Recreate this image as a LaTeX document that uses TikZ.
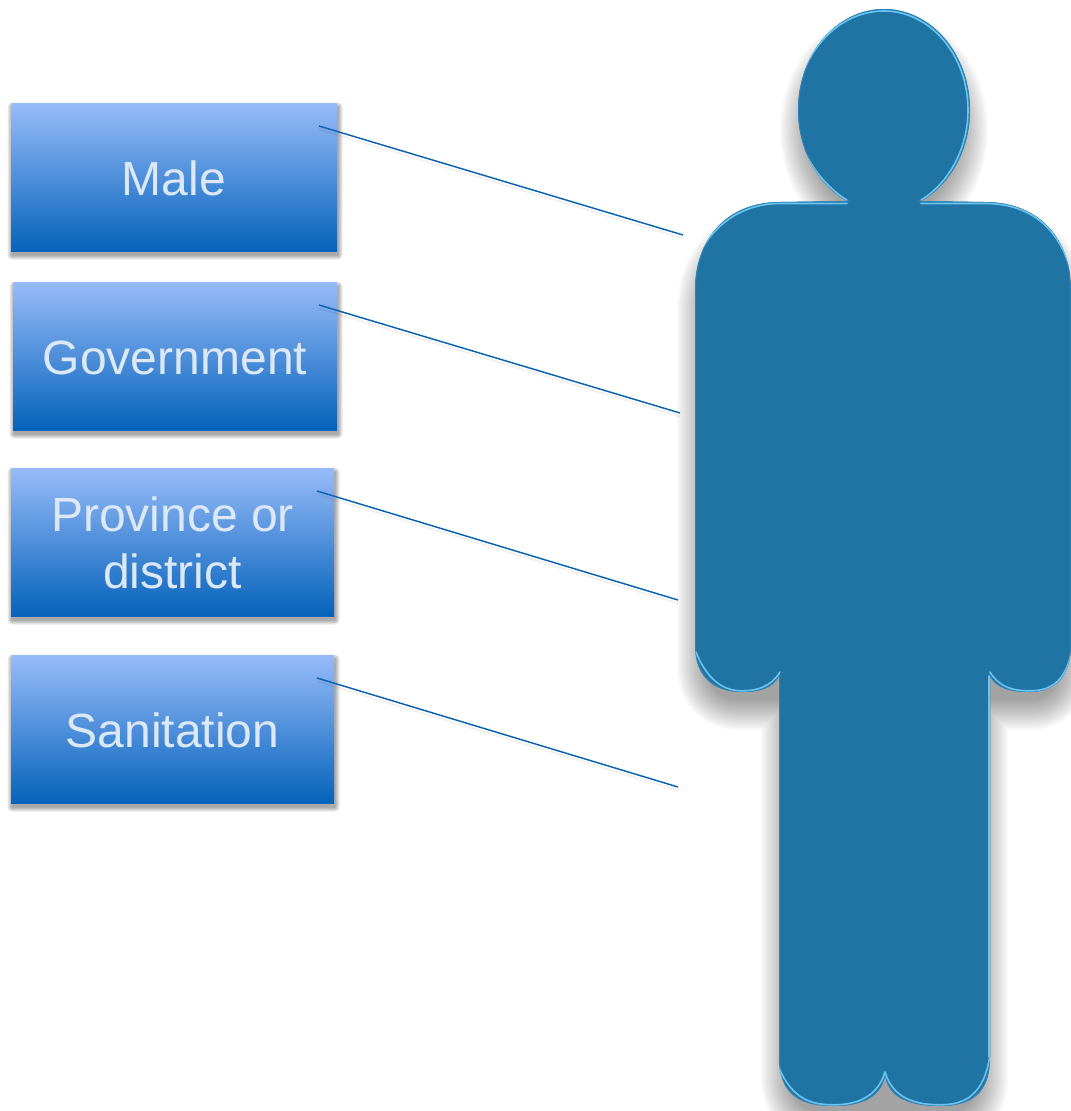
\documentclass[tikz,border=0pt]{standalone}
\usepackage{fontspec}
\setmainfont{Liberation Sans}
\definecolor{figblue}{HTML}{1F74A4}
\definecolor{figedge}{HTML}{2E82B3}
\definecolor{fighi}{HTML}{69C4F0}
\definecolor{boxtop}{HTML}{97BBF9}
\definecolor{boxmid}{HTML}{7AA2E6}
\definecolor{boxbot}{HTML}{0563BB}
\definecolor{boxtext}{HTML}{DCE8F5}
\definecolor{linkblue}{HTML}{0B62AE}
\newcommand{\figoutline}{
  (847,201) .. controls (817.1,184.2) and (798,148.9) .. (798,110)
  .. controls (798,54.2) and (836.5,9) .. (884,9)
  .. controls (931.5,9) and (970,54.2) .. (970,110)
  .. controls (970,148.9) and (950.9,184.2) .. (921,201)
  -- (985,202) .. controls (1040,202) and (1071,240) .. (1071,290)
  -- (1071,645) .. controls (1071,675) and (1055,692) .. (1030,692)
  .. controls (1010,692) and (996,688) .. (990,676)
  -- (990,1057) .. controls (990,1090) and (975,1106) .. (940,1106)
  .. controls (905,1106) and (888,1095) .. (885,1075)
  .. controls (882,1095) and (865,1106) .. (833,1106)
  .. controls (795,1106) and (779,1090) .. (779,1057)
  -- (779,676) .. controls (773,688) and (760,692) .. (742,692)
  .. controls (712,692) and (695,675) .. (695,645)
  -- (695,290) .. controls (695,240) and (726,202) .. (780,202)
  -- cycle}
% the same silhouette drawn 14px smaller, as the core of the blurred shadow
\newcommand{\figcore}{
  (812,110) .. controls (812,62) and (844,23) .. (884,23)
  .. controls (924,23) and (956,62) .. (956,110)
  .. controls (956,158) and (924,197) .. (884,197)
  .. controls (844,197) and (812,158) .. (812,110) -- cycle
  (709,290) .. controls (709,250) and (735,216) .. (780,216)
  -- (985,216) .. controls (1030,216) and (1057,250) .. (1057,290)
  -- (1057,645) .. controls (1057,667) and (1048,678) .. (1030,678)
  -- (976,678) -- (976,1057) .. controls (976,1080) and (965,1092) .. (940,1092)
  -- (833,1092) .. controls (805,1092) and (793,1080) .. (793,1057)
  -- (793,678) -- (742,678) .. controls (720,678) and (709,667) .. (709,645)
  -- cycle}
\newcommand{\up}{\rule{0pt}{27.4pt}}
\tikzset{
  x=0.75pt,y=-0.75pt,
  labelbox/.style={rectangle,inner sep=0pt,minimum height=111pt,
    top color=boxtop,middle color=boxmid,bottom color=boxbot,
    text=boxtext,align=center,font=\fontsize{36}{43}\selectfont},
  link/.style={draw=linkblue,line width=1.1pt},
  linkshadow/.style={draw=black,opacity=0.05,line width=1.6pt},
  rim/.style={draw=fighi,line width=1.2pt,line cap=round}
}
\newcommand{\boxshade}[4]{%
  \foreach \w in {9,7,5,3,1}{
    \begin{scope}[transparency group,opacity=0.08]
    \draw[black,fill=black,line join=round,line width=\w*0.75pt] (#1+1,#2+4) rectangle (#3+1,#4+4);
    \end{scope}
  }}
\begin{document}
\begin{tikzpicture}
\useasboundingbox (0,0) rectangle (1071,1111);
% figure shadow
\begin{scope}[yshift=-15pt]
  \foreach \w in {64,60,56,52,48,44,40,36,32,28,24,20,16,12,8,4}{
    \begin{scope}[transparency group,opacity=0.027]
    \draw[black,fill=black,line join=round,line width=\w*0.75pt] \figcore;
    \end{scope}
  }
\end{scope}
% figure
\fill[figblue] \figoutline;
\begin{scope}
  \clip \figoutline;
  \draw[figedge,line width=1.6pt] \figoutline;
  % bright rims, running out through the outline so that they taper
  \draw[rim] (800,80) .. controls (816,34) and (850,11) .. (884,11)
     .. controls (930,11) and (968,55) .. (968,110)
     .. controls (968,148) and (949,183) .. (921,200);
  \draw[rim] (847,200) .. controls (830,190) and (812,170) .. (802,146);
  \draw[rim] (921,203.5) -- (985,203.5) .. controls (1030,203.5) and (1058,228) .. (1070,268);
  \draw[rim] (847,203.5) -- (780,203.5) .. controls (745,203.5) and (714,222) .. (697,258);
  \draw[rim] (696,652) .. controls (708,682) and (725,690.8) .. (742,690.8) .. controls (755,690.8) and (770,688) .. (780,672);
  \draw[rim] (990,672) .. controls (1000,688) and (1014,690.8) .. (1030,690.8) .. controls (1050,690.8) and (1064,682) .. (1071,655);
  \draw[rim] (989,676) -- (989,1057);
  \draw[rim] (779,1068) .. controls (792,1098) and (810,1104.8) .. (833,1104.8) .. controls (860,1104.8) and (878,1095) .. (885,1072);
  \draw[rim] (885,1072) .. controls (892,1095) and (910,1104.8) .. (940,1104.8) .. controls (965,1104.8) and (984,1095) .. (990,1055);
\end{scope}
% boxes
\boxshade{11}{103}{337}{251}
\boxshade{13}{282}{337}{430}
\boxshade{11}{468}{334}{616}
\boxshade{11}{655}{334}{803}
\node[labelbox,minimum width=244.5pt] (male) at (174,177) {\up Male};
\node[labelbox,minimum width=243pt] (gov) at (175,356) {\up Government};
\node[labelbox,minimum width=242.25pt] (prov) at (172.5,542) {\up Province or\\district};
\node[labelbox,minimum width=242.25pt] (san) at (172.5,729) {\up Sanitation};
% connector ends
\coordinate (maleA) at (319,126);
\coordinate (maleB) at (683,235);
\coordinate (govA) at (319,305);
\coordinate (govB) at (680,413);
\coordinate (provA) at (317,491);
\coordinate (provB) at (678,600);
\coordinate (sanA) at (317,678);
\coordinate (sanB) at (678,787);
\foreach \a/\b in {maleA/maleB,govA/govB,provA/provB,sanA/sanB}{
  \draw[linkshadow] ([yshift=-2.5pt]\a) -- ([yshift=-2.5pt]\b);
  \draw[link] (\a) -- (\b);
}
\end{tikzpicture}
\end{document}
